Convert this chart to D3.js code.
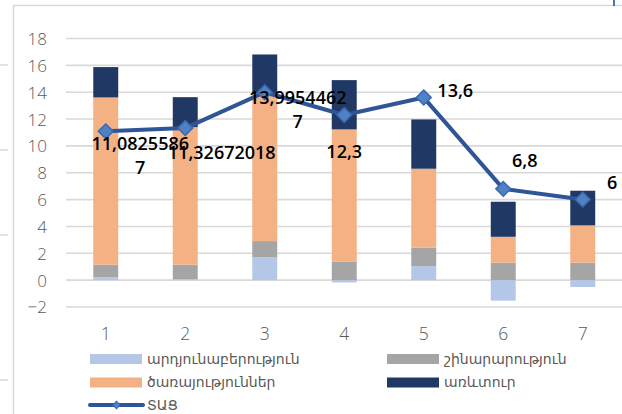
<!DOCTYPE html>
<html>
<head>
<meta charset="utf-8">
<script src="https://cdn.jsdelivr.net/npm/d3@7"></script>
<style>
html,body{margin:0;padding:0;background:#fff;}
svg{display:block;}
</style>
</head>
<body>
<svg id="chart" width="622" height="414"></svg>
<script>
// ---- data ----
const categories = ["1", "2", "3", "4", "5", "6", "7"];
const industry     = [0.23, 0.08, 1.72, -0.17, 1.05, -1.53, -0.51];
const construction = [0.92, 1.07, 1.19, 1.37, 1.36, 1.30, 1.30];
const services     = [12.46, 10.25, 10.99, 9.86, 5.89, 1.93, 2.78];
const trade        = [2.26, 2.23, 2.91, 3.67, 3.67, 2.61, 2.58];
const gdp          = [11.08255867, 11.32672018, 13.99544627, 12.3, 13.6, 6.8, 6];
const gdpLabels    = [["11,0825586", "7"], ["11,32672018"], ["13,9954462", "7"], ["12,3"], ["13,6"], ["6,8"], ["6"]];
const yTicks       = [-2, 0, 2, 4, 6, 8, 10, 12, 14, 16, 18];
const seriesNames  = ["արդյունաբերություն", "շինարարություն", "ծառայություններ", "առևտուր"];
const lineName     = "ՏԱՑ";

// ---- styles / layout ----
const colors = ["#b4c7e7", "#a5a5a5", "#f4b183", "#203864"];
const lineColor = "#2f5597";
const markerFill = "#4f81c4";
const gridColor = "#d9d9d9";
const textGray = "#595959";
const labelOffsets = [[34.5, 12], [36.5, 25], [33, 5], [0, 37], [31.5, -7], [21.5, -28], [29.5, -17]];

const svg = d3.select("#chart");

// frame remnants
svg.append("line").attr("x1", 13.5).attr("x2", 13.5).attr("y1", 5).attr("y2", 414)
  .attr("stroke", gridColor).attr("stroke-width", 1.5);
svg.append("line").attr("x1", 13).attr("x2", 622).attr("y1", 5.5).attr("y2", 5.5)
  .attr("stroke", gridColor).attr("stroke-width", 1.5);
[65, 150, 235, 380].forEach(yy => {
  svg.append("line").attr("x1", 0).attr("x2", 8).attr("y1", yy).attr("y2", yy)
    .attr("stroke", gridColor).attr("stroke-width", 1.5);
});
svg.append("line").attr("x1", 614).attr("x2", 614).attr("y1", 0).attr("y2", 6)
  .attr("stroke", "#4472c4").attr("stroke-width", 2);

// scales
const x = d3.scaleBand().domain(categories).range([66, 622.5]).paddingInner(0.686).paddingOuter(0.343);
const y = d3.scaleLinear().domain([-2, 18]).range([307, 38.5]);

// gridlines
svg.append("g").selectAll("line").data(yTicks).join("line")
  .attr("x1", 66).attr("x2", 622)
  .attr("y1", d => y(d)).attr("y2", d => y(d))
  .attr("stroke", gridColor).attr("stroke-width", 1.6);

// y axis labels
const yAxis = d3.axisLeft(y).tickValues(yTicks).tickSize(0).tickPadding(0).tickFormat(d3.format("d"));
const gy = svg.append("g").attr("transform", "translate(47,0)").call(yAxis);
gy.select(".domain").remove();
gy.selectAll("text").attr("font-family", "'Open Sans', sans-serif").attr("font-size", 17)
  .attr("fill", textGray).attr("font-weight", 300).attr("dy", "0.35em");

// x axis labels
const xAxis = d3.axisBottom(x).tickSize(0).tickPadding(0);
const gx = svg.append("g").attr("transform", "translate(0,328)").call(xAxis);
gx.select(".domain").remove();
gx.selectAll("text").attr("font-family", "'Open Sans', sans-serif").attr("font-size", 17.5)
  .attr("fill", textGray).attr("font-weight", 300).attr("dy", "0.71em");

// stacked bars
const rows = categories.map((c, i) => ({cat: c, s0: industry[i], s1: construction[i], s2: services[i], s3: trade[i]}));
const stack = d3.stack().keys(["s0", "s1", "s2", "s3"]).offset(d3.stackOffsetDiverging);
const stacked = stack(rows);
svg.append("g").selectAll("g").data(stacked).join("g")
  .attr("fill", (d, i) => colors[i])
  .selectAll("rect").data(d => d).join("rect")
  .attr("x", d => x(d.data.cat))
  .attr("width", x.bandwidth())
  .attr("y", d => y(Math.max(d[0], d[1])))
  .attr("height", d => Math.abs(y(d[0]) - y(d[1])));

// line
const cx = i => x(categories[i]) + x.bandwidth() / 2;
const line = d3.line().x((d, i) => cx(i)).y(d => y(d));
svg.append("path").datum(gdp).attr("d", line).attr("fill", "none")
  .attr("stroke", lineColor).attr("stroke-width", 4).attr("stroke-linejoin", "round");

svg.append("g").selectAll("path").data(gdp).join("path")
  .attr("d", d3.symbol().type(d3.symbolSquare).size(110))
  .attr("transform", (d, i) => `translate(${cx(i)},${y(d)}) rotate(45)`)
  .attr("fill", markerFill).attr("stroke", "#3a68ad").attr("stroke-width", 1.5);

// data labels
const lbl = svg.append("g");
gdp.forEach((v, i) => {
  const t = lbl.append("text")
    .attr("x", cx(i) + labelOffsets[i][0])
    .attr("y", y(v) + labelOffsets[i][1])
    .attr("text-anchor", "middle")
    .attr("font-family", "'Open Sans', sans-serif")
    .attr("font-size", 18).attr("font-weight", 600).attr("fill", "#000");
  gdpLabels[i].forEach((s, j) => {
    t.append("tspan").attr("x", cx(i) + labelOffsets[i][0]).attr("dy", j === 0 ? "0.35em" : 24).text(s);
  });
});

// legend
const leg = svg.append("g").attr("font-family", "'DejaVu Sans', sans-serif").attr("font-size", 14).attr("fill", textGray);
const legItems = [
  {name: seriesNames[0], color: colors[0], x: 90, y: 359},
  {name: seriesNames[1], color: colors[1], x: 387, y: 359},
  {name: seriesNames[2], color: colors[2], x: 90, y: 382.5},
  {name: seriesNames[3], color: colors[3], x: 387, y: 382.5}
];
legItems.forEach(it => {
  leg.append("rect").attr("x", it.x).attr("y", it.y - 5).attr("width", 52).attr("height", 10).attr("fill", it.color);
  leg.append("text").attr("x", it.x + 57).attr("y", it.y).attr("dy", "0.35em").text(it.name);
});
leg.append("line").attr("x1", 90).attr("x2", 143).attr("y1", 405).attr("y2", 405)
  .attr("stroke", lineColor).attr("stroke-width", 4).attr("stroke-linecap", "round");
leg.append("path").attr("d", d3.symbol().type(d3.symbolSquare).size(28))
  .attr("transform", "translate(116.5,405) rotate(45)").attr("fill", markerFill).attr("stroke", "#3a68ad");
leg.append("text").attr("x", 147).attr("y", 405).attr("dy", "0.35em").text(lineName);
</script>
</body>
</html>
